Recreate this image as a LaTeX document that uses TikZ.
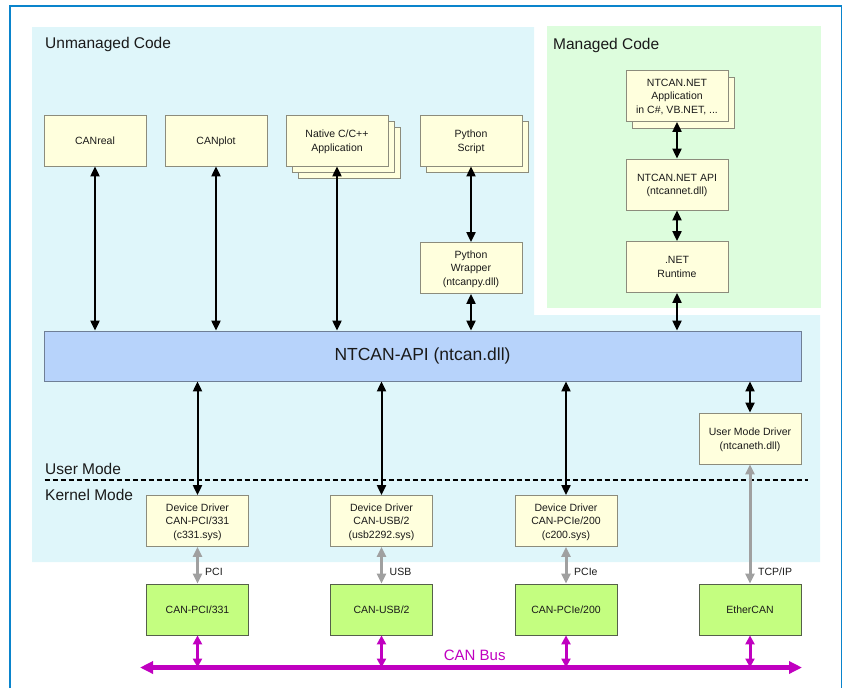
\documentclass[tikz,border=0pt]{standalone}
\usepackage{fontspec}
\setmainfont{Liberation Sans}
\usetikzlibrary{arrows.meta}
\definecolor{frameblue}{HTML}{0A84CC}
\definecolor{unmanaged}{HTML}{DFF6FA}
\definecolor{managed}{HTML}{DDFDDD}
\definecolor{boxyellow}{HTML}{FFFFDD}
\definecolor{boxborder}{HTML}{8C8C7C}
\definecolor{apiblue}{HTML}{B7D3FB}
\definecolor{apiborder}{HTML}{6F7F96}
\definecolor{hwgreen}{HTML}{C4FE80}
\definecolor{hwborder}{HTML}{55604A}
\definecolor{busmag}{HTML}{C000C0}
\definecolor{linkgray}{HTML}{A0A0A0}
\definecolor{txt}{HTML}{1A1A1A}
\begin{document}
\begin{tikzpicture}[x=1pt,y=-1pt,
  swbox/.style={draw=boxborder, fill=boxyellow, line width=0.8pt,
    minimum width=102pt, minimum height=51pt, inner sep=0pt, align=center,
    text depth=0pt, text=txt, font=\fontsize{10.5}{13.5}\selectfont},
  hwbox/.style={swbox, draw=hwborder, fill=hwgreen},
  apibox/.style={draw=apiborder, fill=apiblue, line width=0.8pt,
    minimum width=757pt, minimum height=50pt, inner sep=0pt,
    text=txt, font=\fontsize{17.5}{20}\selectfont},
  region/.style={anchor=base west, inner sep=0pt, text=txt, font=\fontsize{15.5}{18}\selectfont},
  linklabel/.style={anchor=west, inner sep=0pt, text=txt, font=\fontsize{10.5}{12}\selectfont},
  barrow/.style={line width=2pt, {Triangle[width=9pt,length=10pt]}-{Triangle[width=9pt,length=10pt]}},
  garrow/.style={line width=3pt, draw=linkgray, {Triangle[width=9pt,length=10pt]}-{Triangle[width=9pt,length=10pt]}},
  marrow/.style={line width=3pt, draw=busmag, {Triangle[width=9pt,length=9pt]}-{Triangle[width=9pt,length=9pt]}},
  busline/.style={line width=5pt, draw=busmag, {Triangle[width=12pt,length=13pt]}-{Triangle[width=12pt,length=13pt]}}
]
\useasboundingbox (0,0) rectangle (842,688);
% background regions
\fill[unmanaged] (32,27) -- (534,27) -- (534,315) -- (820,315) -- (820,562) -- (32,562) -- cycle;
\fill[managed] (547,26) rectangle (821,308);
% frame
\draw[frameblue, line width=2.7pt] (10,688) -- (10,6) -- (842,6);
\draw[frameblue, line width=1pt] (841,6) -- (841,688);

% region titles
\node[region] (tUnmanaged) at (45,48.3) {Unmanaged Code};
\node[region] (tManaged) at (553,49) {Managed Code};
\node[region] (tUser) at (45,474) {User Mode};
\node[region] (tKernel) at (45,500) {Kernel Mode};

% application boxes
\node[swbox] (canreal) at (95,140.5) {CANreal};
\node[swbox] (canplot) at (216,140.5) {CANplot};
\node[swbox] (native3) at (349.6,153.1) {};
\node[swbox] (native2) at (343.3,146.8) {};
\node[swbox] (native) at (337,140.5) {Native C/C++\\Application};
\node[swbox] (pyscript2) at (477.5,147) {};
\node[swbox] (pyscript) at (471,140.5) {Python\\Script};
\node[swbox] (pywrap) at (471,268) {Python\\Wrapper\\(ntcanpy.dll)};
\node[swbox] (netapp2) at (683.5,102.5) {};
\node[swbox] (netapp) at (677,96) {NTCAN.NET\\Application\\in C\#, VB.NET, ...};
\node[swbox] (netapi) at (677,184.5) {NTCAN.NET API\\(ntcannet.dll)};
\node[swbox] (netrt) at (677,267) {.NET\\Runtime};

% API bar
\node[apibox] (api) at (422.5,356) {NTCAN-API (ntcan.dll)};

% drivers
\node[swbox] (umd) at (750,438.5) {User Mode Driver\\(ntcaneth.dll)};
\node[swbox] (dd1) at (197.5,521) {Device Driver\\CAN-PCI/331\\(c331.sys)};
\node[swbox] (dd2) at (381.5,521) {Device Driver\\CAN-USB/2\\(usb2292.sys)};
\node[swbox] (dd3) at (566,521) {Device Driver\\CAN-PCIe/200\\(c200.sys)};

% hardware
\node[hwbox] (hw1) at (197.5,609.5) {CAN-PCI/331};
\node[hwbox] (hw2) at (381.5,609.5) {CAN-USB/2};
\node[hwbox] (hw3) at (566,609.5) {CAN-PCIe/200};
\node[hwbox] (hw4) at (750,609.5) {EtherCAN};

% user/kernel separator
\coordinate (sepL) at (44.6,480);
\coordinate (sepR) at (808,480);
\draw[line width=1.8pt, dash pattern=on 5.5pt off 2.5pt] (sepL) -- (sepR);

% black arrows
\draw[barrow] (canreal.south) -- (canreal.south |- api.north);
\draw[barrow] (canplot.south) -- (canplot.south |- api.north);
\draw[barrow] (native.south) -- (native.south |- api.north);
\draw[barrow] (pyscript.south) -- (pywrap.north);
\draw[barrow] (pywrap.south) -- (pywrap.south |- api.north);
\draw[barrow] (netapp.south) -- (netapi.north);
\draw[barrow] (netapi.south) -- (netrt.north);
\draw[barrow] (netrt.south) -- (netrt.south |- api.north);
\draw[barrow] (dd1.north |- api.south) -- (dd1.north);
\draw[barrow] (dd2.north |- api.south) -- (dd2.north);
\draw[barrow] (dd3.north |- api.south) -- (dd3.north);
\draw[barrow] (umd.north |- api.south) -- (umd.north);

% gray links
\draw[garrow] (dd1.south) -- (hw1.north);
\draw[garrow] (dd2.south) -- (hw2.north);
\draw[garrow] (dd3.south) -- (hw3.north);
\draw[garrow] (umd.south) -- (hw4.north);
\node[linklabel] (lpci) at (205,572) {PCI};
\node[linklabel] (lusb) at (389.5,572) {USB};
\node[linklabel] (lpcie) at (574,572) {PCIe};
\node[linklabel] (ltcp) at (758,572) {TCP/IP};

% CAN bus
\coordinate (busL) at (140,667.5);
\coordinate (busR) at (802,667.5);
\draw[busline] (busL) -- (busR);
\draw[marrow] (hw1.south) -- (hw1.south |- busL);
\draw[marrow] (hw2.south) -- (hw2.south |- busL);
\draw[marrow] (hw3.south) -- (hw3.south |- busL);
\draw[marrow] (hw4.south) -- (hw4.south |- busL);
\node[anchor=base, inner sep=0pt, text=busmag, font=\fontsize{15}{18}\selectfont] (busname) at (474.7,660.7) {CAN Bus};
\end{tikzpicture}
\end{document}
